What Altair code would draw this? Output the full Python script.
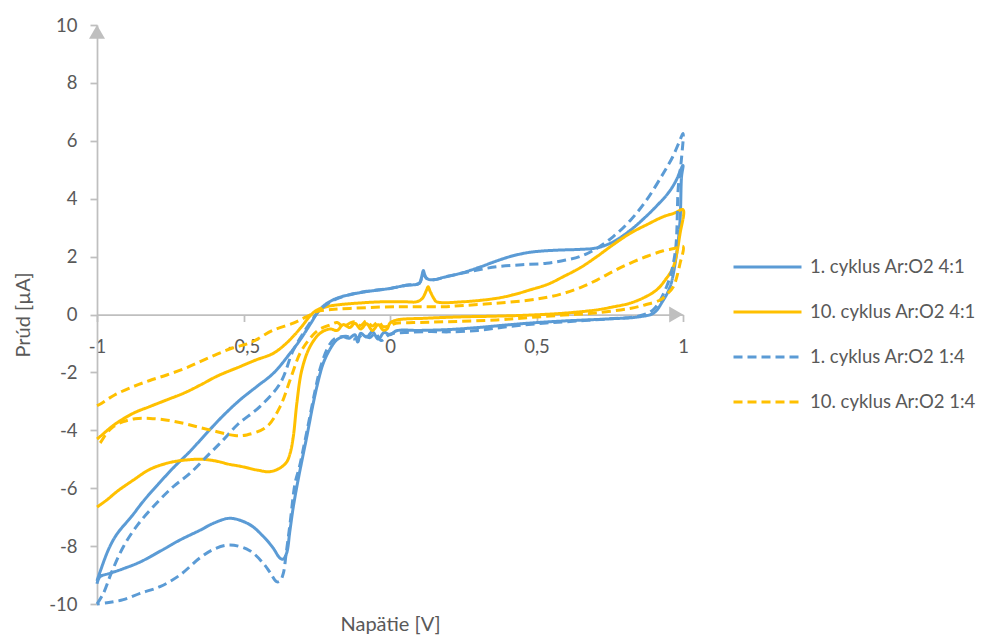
import altair as alt
import pandas as pd

S1 = "1. cyklus Ar:O2 4:1"
S2 = "10. cyklus Ar:O2 4:1"
S3 = "1. cyklus Ar:O2 1:4"
S4 = "10. cyklus Ar:O2 1:4"
series_names = [S1, S2, S3, S4]
series_colors = ["#5B9BD5", "#FFC000", "#5B9BD5", "#FFC000"]
series_dashes = [[1, 0], [1, 0], [9, 5], [9, 5]]

# 1. cyklus Ar:O2 4:1
s1_x = [-1.0, -0.99, -0.96, -0.933, -0.88, -0.842, -0.79, -0.74, -0.68, -0.626, -0.57, -0.512, -0.455, -0.398, -0.341, -0.307, -0.27, -0.245, -0.22, -0.182, -0.13, -0.08, 0.0, 0.05, 0.1, 0.108, 0.114, 0.12, 0.137, 0.19, 0.25, 0.31, 0.364, 0.42, 0.478, 0.53, 0.59, 0.65, 0.705, 0.76, 0.819, 0.87, 0.91, 0.95, 0.975, 1.0,
        0.995, 0.99, 0.978, 0.956, 0.93, 0.9, 0.85, 0.75, 0.6, 0.5, 0.4, 0.3, 0.2, 0.1, 0.023, 0.0, -0.02, -0.04, -0.06, -0.08, -0.1, -0.11, -0.12, -0.14, -0.16, -0.182, -0.205, -0.228, -0.245, -0.262, -0.284, -0.307, -0.318, -0.33, -0.342, -0.353, -0.365, -0.375, -0.4, -0.432, -0.48, -0.546, -0.6, -0.648, -0.717, -0.78, -0.853, -0.91, -0.956, -0.99, -1.0]
s1_y = [-9.2, -8.9, -8.1, -7.6, -6.95, -6.45, -5.85, -5.3, -4.7, -4.1, -3.5, -2.95, -2.49, -2.03, -1.34, -0.88, -0.3, 0.1, 0.35, 0.56, 0.7, 0.79, 0.9, 1.0, 1.08, 1.3, 1.52, 1.3, 1.2, 1.3, 1.45, 1.65, 1.85, 2.03, 2.15, 2.2, 2.23, 2.25, 2.3, 2.5, 2.9, 3.35, 3.75, 4.2, 4.6, 5.15,
        4.76, 3.26, 2.1, 0.96, 0.45, 0.05, -0.08, -0.15, -0.22, -0.28, -0.36, -0.45, -0.52, -0.55, -0.56, -0.7, -0.62, -0.85, -0.6, -0.78, -0.65, -0.95, -0.7, -0.82, -0.77, -0.88, -1.2, -1.69, -2.3, -3.07, -4.22, -5.37, -5.95, -6.64, -7.5, -8.25, -8.45, -8.42, -8.05, -7.67, -7.25, -7.04, -7.2, -7.45, -7.79, -8.15, -8.55, -8.78, -8.94, -9.06, -9.3]

# 10. cyklus Ar:O2 4:1
s2_x = [-1.0, -0.99, -0.94, -0.876, -0.82, -0.762, -0.7, -0.648, -0.59, -0.512, -0.46, -0.398, -0.36, -0.33, -0.3, -0.273, -0.25, -0.22, -0.182, -0.1, -0.023, 0.05, 0.091, 0.11, 0.125, 0.13, 0.137, 0.15, 0.159, 0.25, 0.364, 0.42, 0.478, 0.54, 0.592, 0.65, 0.706, 0.76, 0.819, 0.88, 0.933, 0.97, 1.0,
        0.99, 0.967, 0.94, 0.91, 0.87, 0.819, 0.76, 0.706, 0.6, 0.478, 0.35, 0.25, 0.12, 0.023, 0.0, -0.01, -0.023, -0.04, -0.06, -0.08, -0.1, -0.12, -0.137, -0.16, -0.18, -0.205, -0.239, -0.273, -0.301, -0.318, -0.33, -0.341, -0.353, -0.375, -0.41, -0.45, -0.512, -0.546, -0.6, -0.648, -0.717, -0.762, -0.82, -0.876, -0.93, -0.967, -1.0]
s2_y = [-4.3, -4.22, -3.8, -3.41, -3.18, -2.95, -2.7, -2.44, -2.13, -1.8, -1.58, -1.34, -1.05, -0.75, -0.4, -0.05, 0.15, 0.26, 0.33, 0.4, 0.44, 0.44, 0.44, 0.55, 0.85, 0.96, 0.8, 0.55, 0.44, 0.44, 0.56, 0.68, 0.85, 1.05, 1.31, 1.62, 2.0, 2.4, 2.8, 3.12, 3.38, 3.5, 3.62,
        2.8, 1.65, 1.2, 0.85, 0.6, 0.39, 0.26, 0.16, 0.05, -0.02, -0.06, -0.08, -0.13, -0.19, -0.3, -0.5, -0.54, -0.35, -0.55, -0.32, -0.5, -0.3, -0.45, -0.35, -0.55, -0.5, -0.65, -1.11, -1.92, -3.07, -4.22, -4.8, -5.1, -5.3, -5.43, -5.38, -5.24, -5.18, -5.05, -5.0, -5.05, -5.14, -5.35, -5.72, -6.1, -6.41, -6.65]

# 1. cyklus Ar:O2 1:4
s3_x = [-1.0, -0.978, -0.95, -0.91, -0.86, -0.797, -0.74, -0.683, -0.62, -0.569, -0.52, -0.444, -0.375, -0.33, -0.29, -0.26, -0.24, -0.2, -0.15, -0.08, 0.0, 0.06, 0.1, 0.114, 0.125, 0.15, 0.193, 0.28, 0.364, 0.45, 0.535, 0.6, 0.648, 0.7, 0.762, 0.82, 0.876, 0.933, 0.965, 0.99, 1.0,
        0.995, 0.984, 0.973, 0.944, 0.898, 0.85, 0.75, 0.6, 0.5, 0.4, 0.3, 0.2, 0.137, 0.05, 0.0, -0.03, -0.05, -0.07, -0.09, -0.12, -0.15, -0.19, -0.21, -0.235, -0.255, -0.275, -0.295, -0.31, -0.324, -0.341, -0.355, -0.364, -0.375, -0.387, -0.41, -0.432, -0.48, -0.546, -0.6, -0.648, -0.717, -0.785, -0.853, -0.91, -0.96, -1.0]
s3_y = [-10.0, -9.63, -8.9, -8.02, -7.25, -6.52, -5.95, -5.49, -4.85, -4.33, -3.8, -3.18, -2.38, -1.23, -0.55, -0.1, 0.15, 0.45, 0.65, 0.8, 0.9, 1.02, 1.08, 1.45, 1.25, 1.2, 1.31, 1.5, 1.65, 1.72, 1.77, 1.88, 2.0, 2.25, 2.69, 3.25, 3.96, 4.88, 5.45, 6.03, 6.25,
        5.4, 4.41, 2.12, 0.96, 0.16, -0.05, -0.15, -0.25, -0.32, -0.42, -0.55, -0.6, -0.59, -0.62, -0.68, -0.9, -0.65, -0.8, -0.7, -0.85, -0.75, -0.85, -1.1, -1.75, -2.6, -3.6, -4.6, -5.3, -5.83, -7.21, -8.3, -8.94, -9.2, -9.23, -8.9, -8.6, -8.15, -7.96, -8.1, -8.4, -9.0, -9.4, -9.63, -9.85, -9.95, -10.0]

# 10. cyklus Ar:O2 1:4
s4_x = [-1.0, -0.99, -0.94, -0.876, -0.82, -0.762, -0.7, -0.648, -0.59, -0.535, -0.478, -0.398, -0.33, -0.29, -0.262, -0.25, -0.2, -0.137, -0.05, 0.034, 0.1, 0.182, 0.25, 0.364, 0.478, 0.54, 0.592, 0.65, 0.706, 0.76, 0.819, 0.88, 0.933, 0.97, 1.0,
        0.99, 0.967, 0.945, 0.922, 0.87, 0.819, 0.7, 0.592, 0.48, 0.364, 0.193, 0.08, 0.02, 0.0, -0.023, -0.04, -0.06, -0.08, -0.1, -0.12, -0.137, -0.16, -0.18, -0.205, -0.245, -0.275, -0.307, -0.341, -0.375, -0.421, -0.489, -0.53, -0.59, -0.65, -0.705, -0.76, -0.819, -0.87, -0.91, -0.945, -0.967, -0.99, -1.0]
s4_y = [-3.15, -3.1, -2.78, -2.49, -2.28, -2.09, -1.86, -1.63, -1.37, -1.15, -0.98, -0.54, -0.3, -0.1, 0.04, 0.1, 0.17, 0.21, 0.25, 0.27, 0.27, 0.27, 0.31, 0.39, 0.5, 0.6, 0.73, 0.93, 1.19, 1.48, 1.77, 2.02, 2.2, 2.28, 2.35,
        1.77, 0.96, 0.7, 0.5, 0.33, 0.21, 0.05, -0.02, -0.1, -0.19, -0.25, -0.28, -0.3, -0.38, -0.42, -0.25, -0.4, -0.22, -0.38, -0.25, -0.3, -0.42, -0.28, -0.36, -0.54, -0.85, -1.34, -2.26, -3.18, -3.88, -4.16, -4.18, -4.05, -3.9, -3.76, -3.65, -3.59, -3.6, -3.7, -3.88, -4.1, -4.45, -4.55]

rows = []
for name, xs, ys in [(S1, s1_x, s1_y), (S2, s2_x, s2_y), (S3, s3_x, s3_y), (S4, s4_x, s4_y)]:
    for i, (xv, yv) in enumerate(zip(xs, ys)):
        rows.append({"series": name, "i": i, "x": xv, "y": yv})
df = pd.DataFrame(rows)

x_ticks = [-1, -0.5, 0, 0.5, 1]
y_ticks = [-10, -8, -6, -4, -2, 0, 2, 4, 6, 8, 10]

FONT = "Lato"
TXT = "#595959"
GRAY = "#BFBFBF"
W, H = 586, 579

legend = alt.Legend(
    title=None, orient="none", legendX=635, legendY=230,
    symbolType="stroke", symbolSize=4624, symbolStrokeWidth=3,
    labelFont=FONT, labelFontSize=18.5, labelColor=TXT, labelOffset=7,
    clipHeight=24, rowPadding=21, padding=0, labelLimit=400,
)

x_enc = alt.X("x:Q", scale=alt.Scale(domain=[-1, 1], nice=False, zero=False),
              axis=alt.Axis(values=x_ticks, offset=-H / 2, grid=False,
                            domainColor=GRAY, domainWidth=1.75, tickColor=GRAY, tickWidth=1.75, tickSize=7,
                            labelExpr="replace(toString(datum.value), '.', ',')", labelFlush=False,
                            labelFont=FONT, labelFontSize=18.5, labelColor=TXT, labelPadding=16,
                            title="Napätie [V]", titleFont=FONT, titleFontSize=20, titleFontWeight="normal",
                            titleColor=TXT, titleX=W / 2, titleY=316, titleBaseline="alphabetic"))
y_enc = alt.Y("y:Q", scale=alt.Scale(domain=[-10, 10], nice=False, zero=False),
              axis=alt.Axis(values=y_ticks, grid=False,
                            domainColor=GRAY, domainWidth=1.75, tickColor=GRAY, tickWidth=1.75, tickSize=7,
                            labelExpr="toString(datum.value)", labelFlush=False,
                            labelFont=FONT, labelFontSize=18.5, labelColor=TXT, labelPadding=13,
                            title="Prúd [µA]", titleFont=FONT, titleFontSize=20, titleFontWeight="normal",
                            titleColor=TXT, titleX=-74, titleY=H / 2, titleAngle=-90,
                            titleAlign="center", titleBaseline="middle"))

lines = alt.Chart(df).mark_line(strokeWidth=3, strokeJoin="round", interpolate="catmull-rom").encode(
    x=x_enc,
    y=y_enc,
    color=alt.Color("series:N", scale=alt.Scale(domain=series_names, range=series_colors), legend=legend),
    strokeDash=alt.StrokeDash("series:N", scale=alt.Scale(domain=series_names, range=series_dashes), legend=legend),
    order="i:Q",
)

arrow_up = alt.Chart(pd.DataFrame({"x": [-1.0], "y": [10.0]})).mark_point(
    shape="triangle-up", filled=True, size=256, color=GRAY, opacity=1, yOffset=6.9
).encode(x="x:Q", y="y:Q")
arrow_right = alt.Chart(pd.DataFrame({"x": [1.0], "y": [0.0]})).mark_point(
    shape="triangle-right", filled=True, size=256, color=GRAY, opacity=1, xOffset=-6.9
).encode(x="x:Q", y="y:Q")

chart = alt.layer(lines, arrow_up, arrow_right).properties(
    width=W, height=H,
    autosize=alt.AutoSizeParams(type="none"),
    padding={"left": 89, "top": 17, "right": 313, "bottom": 35},
    background="white",
).configure_view(stroke=None, strokeWidth=0)

chart.save("out.html", embed_options={"renderer": "svg", "actions": False})
